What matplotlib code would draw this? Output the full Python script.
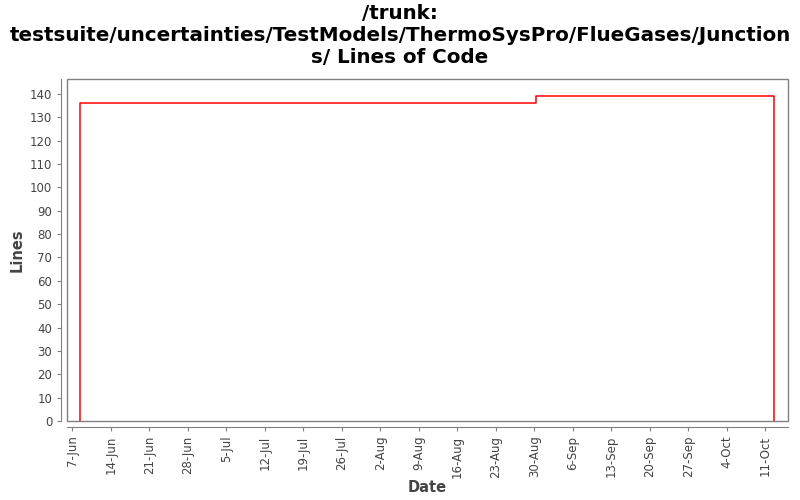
import matplotlib
matplotlib.use("Agg")
import matplotlib.pyplot as plt
import matplotlib.dates as mdates
import matplotlib.patches as patches
from datetime import datetime, timedelta

# lines of code over time (step chart)
dates = ["2009-06-08 12:00", "2009-08-30 08:00", "2009-10-12 14:00", "2009-10-12 14:00"]
lines = [136, 139, 139, 0]

title = "/trunk:\ntestsuite/uncertainties/TestModels/ThermoSysPro/FlueGases/Junction\ns/ Lines of Code"
tick_start = "2009-06-07"
tick_end = "2009-10-11"

x = [datetime.strptime(d, "%Y-%m-%d %H:%M") for d in dates]
# start at zero like the original
xs = [x[0]] + x
ys = [0] + lines

fig = plt.figure(figsize=(8, 5), dpi=100)
ax = fig.add_axes([0.0834, 0.158, 0.9016, 0.684])

ax.step(xs, ys, where="post", color="#ff0000", linewidth=1.1)

ax.set_xlim(datetime(2009, 6, 6), datetime(2009, 10, 15, 3))
ax.set_ylim(0, 146.4)
ax.set_yticks(range(0, 141, 10))

t0 = datetime.strptime(tick_start, "%Y-%m-%d")
t1 = datetime.strptime(tick_end, "%Y-%m-%d")
ticks = []
t = t0
while t <= t1:
    ticks.append(t)
    t += timedelta(days=7)
ax.set_xticks(ticks)
ax.xaxis.set_major_formatter(mdates.DateFormatter("%-d-%b"))

grey = "#808080"
for s in ax.spines.values():
    s.set_color(grey)
ax.spines["left"].set_position(("outward", 4))
ax.spines["bottom"].set_position(("outward", 4))
ax.spines["top"].set_visible(False)
ax.spines["right"].set_visible(False)
ax.add_patch(patches.Rectangle((0, 0), 1, 1, transform=ax.transAxes,
                               fill=False, edgecolor=grey, linewidth=1, clip_on=False))

ax.tick_params(axis="both", colors=grey, labelcolor="#444444", labelsize=8.5, length=3)
ax.tick_params(axis="x", labelrotation=90)

ax.set_xlabel("Date", fontsize=10.5, color="#444444", fontweight="semibold", labelpad=2)
ax.set_ylabel("Lines", fontsize=10.5, color="#444444", fontweight="semibold")

fig.suptitle(title, fontsize=14.3, fontweight="bold", y=0.992, linespacing=1.2)

fig.savefig("out.png", dpi=100)
